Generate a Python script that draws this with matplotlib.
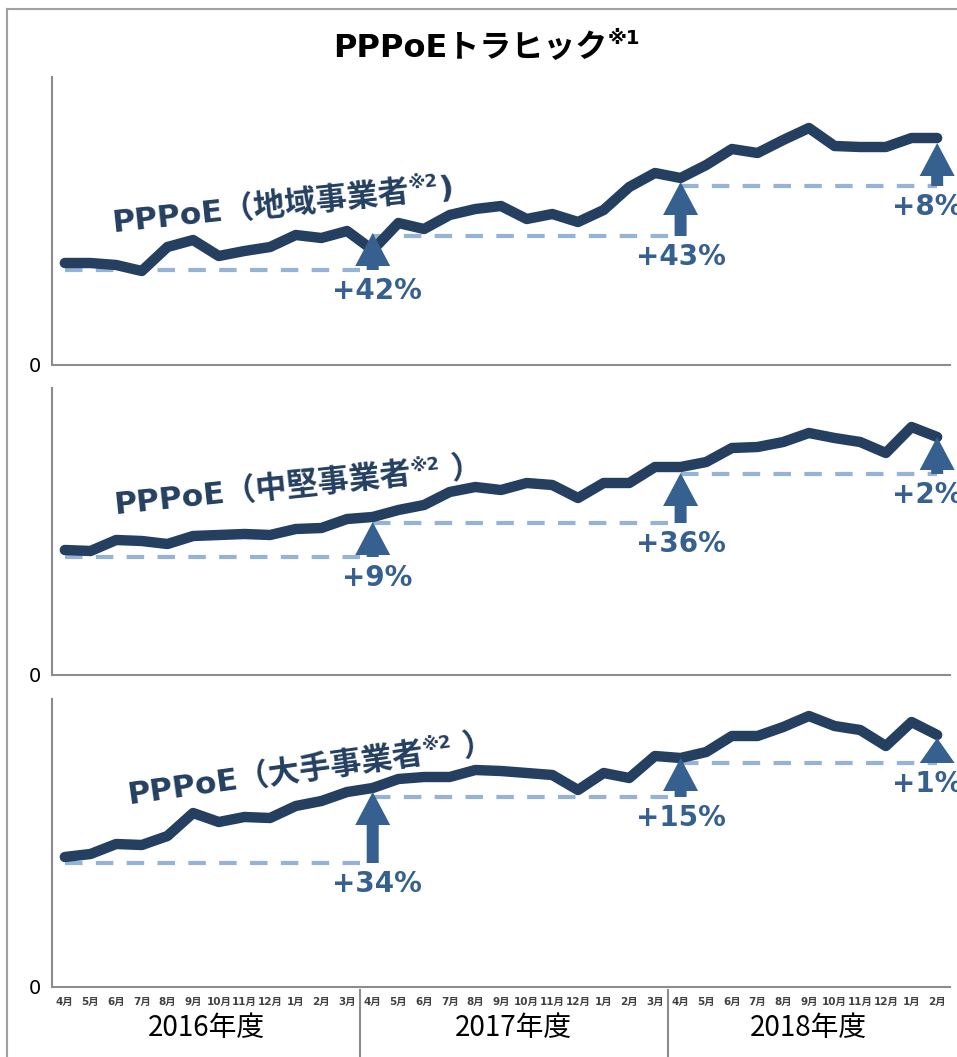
import numpy as np
import matplotlib
matplotlib.use("Agg")
import matplotlib.pyplot as plt
import matplotlib.transforms as mtransforms
from matplotlib.patches import Polygon
from matplotlib.lines import Line2D

FAMILY = ["DejaVu Sans", "Noto Sans CJK JP"]
plt.rcParams["font.family"] = FAMILY

# ---- data (relative traffic) ----
months = ["4月", "5月", "6月", "7月", "8月", "9月", "10月", "11月", "12月", "1月", "2月", "3月"] * 2 + \
         ["4月", "5月", "6月", "7月", "8月", "9月", "10月", "11月", "12月", "1月", "2月"]
fiscal_years = ["2016年度", "2017年度", "2018年度"]
year_of_month = [0] * 12 + [1] * 12 + [2] * 11

regional = [102, 102, 100, 94, 118, 125, 109, 114, 118, 130, 127, 134,
            115, 142, 136, 150, 156, 159, 146, 151, 143, 155, 178, 192,
            187, 200, 216, 212, 225, 237, 219, 218, 218, 227, 227]
midsize = [125, 124, 135, 134, 131, 139, 140, 141, 140, 146, 147, 156,
           158, 165, 170, 183, 188, 185, 192, 190, 177, 192, 192, 208,
           208, 213, 227, 228, 233, 242, 237, 233, 222, 248, 238]
large = [130, 133, 143, 142, 151, 174, 165, 170, 169, 181, 186, 195,
         199, 208, 210, 210, 217, 216, 214, 212, 197, 214, 209, 231,
         229, 235, 251, 251, 260, 271, 261, 257, 241, 265, 252]

series = [regional, midsize, large]
series_names = ["PPPoE（地域事業者", "PPPoE（中堅事業者", "PPPoE（大手事業者"]
closing = [")", " ）", " ）"]
y_max = [288, 287, 288]

# growth annotations: arrow position, reference level (tail), arrow head level, text
arrow_idx = [12, 24, 34]
dash_spans = [(0, 12), (12, 24), (24, 34)]
base_levels = [[95, 129, 179], [118, 152, 201], [124, 190, 224]]
arrow_tops = [[132, 183, 222], [153, 202, 238], [195, 229, 249]]
growth_text = [["+42%", "+43%", "+8%"], ["+9%", "+36%", "+2%"], ["+34%", "+15%", "+1%"]]

LINE_C = "#243F60"
ARROW_C = "#36608F"
DASH_C = "#95B3D7"
AXIS_C = "#8C8C8C"

W, H = 957, 1057
fig = plt.figure(figsize=(W / 100, H / 100), dpi=100)

# panel frames in pixels: (top, bottom)
panel_px = [(77, 365), (388, 675), (699, 987)]
left_px, right_px = 52, 950


def rich_text(x, y, parts, angle=0, ha="left", color="black"):
    """parts: (string, fontsize, rise_px); x, y in display pixels"""
    r = fig.canvas.get_renderer()
    widths = []
    for s, size, rise in parts:
        t = fig.text(0, 0, s, fontsize=size, fontweight="bold")
        widths.append(t.get_window_extent(r).width)
        t.remove()
    th = np.deg2rad(angle)
    off = -sum(widths) / 2 if ha == "center" else 0
    for (s, size, rise), w in zip(parts, widths):
        px = x + off * np.cos(th) - rise * np.sin(th)
        py = y + off * np.sin(th) + rise * np.cos(th)
        fig.text(px / W, py / H, s, fontsize=size, fontweight="bold", color=color,
                 rotation=angle, rotation_mode="anchor", ha="left", va="baseline")
        off += w


def up_arrow(ax, x, y0, y1):
    px, py0 = ax.transData.transform((x, y0))
    _, py1 = ax.transData.transform((x, y1))
    hl = min(33, py1 - py0)
    hw, sw = 17.5, 6
    verts = [(px - sw, py0), (px - sw, py1 - hl), (px - hw, py1 - hl), (px, py1),
             (px + hw, py1 - hl), (px + sw, py1 - hl), (px + sw, py0)]
    ax.add_patch(Polygon(verts, closed=True, transform=mtransforms.IdentityTransform(),
                         facecolor=ARROW_C, edgecolor="none", zorder=3, clip_on=False))


label_anchor = [(0.068, 0.462, 6), (0.070, 0.557, 6), (0.085, 0.632, 8)]
text_dx = [4, 0, -10]
x = np.arange(len(months))

axes = []
for k in range(3):
    top, bot = panel_px[k]
    ax = fig.add_axes([left_px / W, 1 - bot / H, (right_px - left_px) / W, (bot - top) / H])
    axes.append(ax)
    ax.set_xlim(-0.5, len(months) - 0.5)
    ax.set_ylim(0, y_max[k])
    for sp in ["top", "right"]:
        ax.spines[sp].set_visible(False)
    for sp in ["left", "bottom"]:
        ax.spines[sp].set_color(AXIS_C)
        ax.spines[sp].set_linewidth(1.5)
    ax.set_yticks([0])
    ax.set_yticklabels(["0"], fontsize=14)
    ax.tick_params(axis="y", length=0, pad=8)
    ax.tick_params(axis="x", length=0)

    # dashed reference levels
    for (a, b), lvl in zip(dash_spans, base_levels[k]):
        ax.plot([a, b], [lvl, lvl], color=DASH_C, lw=3, linestyle=(0, (4.2, 3.2)), zorder=1)

    ax.plot(x, series[k], color=LINE_C, lw=7.5, solid_capstyle="round",
            solid_joinstyle="round", zorder=2)

    for i, y0, y1, s, dx in zip(arrow_idx, base_levels[k], arrow_tops[k], growth_text[k], text_dx):
        up_arrow(ax, i, y0, y1)
        ax.annotate(s, xy=(i, y0), xytext=(dx, -21), textcoords="offset pixels",
                    ha="center", va="center", fontsize=20, fontweight="bold",
                    color=ARROW_C, annotation_clip=False, zorder=4)

    if k < 2:
        ax.set_xticks([])
    else:
        ax.set_xticks(x)
        ax.set_xticklabels(months, fontsize=7.5, fontweight="bold", color="#404040")
        ax.tick_params(axis="x", pad=7)
        trans = mtransforms.blended_transform_factory(ax.transData, ax.transAxes)
        for j, name in enumerate(fiscal_years):
            idx = [m for m in x if year_of_month[m] == j]
            ax.text(np.mean(idx), -0.142, name, transform=trans, ha="center", va="center",
                    fontsize=20, family=["Noto Sans CJK JP"])
        for j in range(1, len(fiscal_years)):
            sep = year_of_month.index(j) - 0.5
            ax.plot([sep, sep], [-0.01, -0.245], transform=trans, color=AXIS_C,
                    lw=1.5, clip_on=False)

# series labels
for k, ax in enumerate(axes):
    ax_x, ax_y, ang = label_anchor[k]
    px, py = ax.transAxes.transform((ax_x, ax_y))
    rich_text(px, py, [(series_names[k], 22.5, 0), ("※2", 13, 12), (closing[k], 22.5, 0)],
              angle=ang, color=LINE_C)

# title
rich_text(487, H - 57, [("PPPoEトラヒック", 23, 0), ("※1", 14, 13)], ha="center")

# outer frame
fig.add_artist(Line2D([7 / W, 1.0], [1 - 9 / H, 1 - 9 / H], color="#A0A0A0", lw=1.5))
fig.add_artist(Line2D([7 / W, 7 / W], [0, 1 - 9 / H], color="#A0A0A0", lw=1.5))

fig.savefig("out.png", dpi=100)
